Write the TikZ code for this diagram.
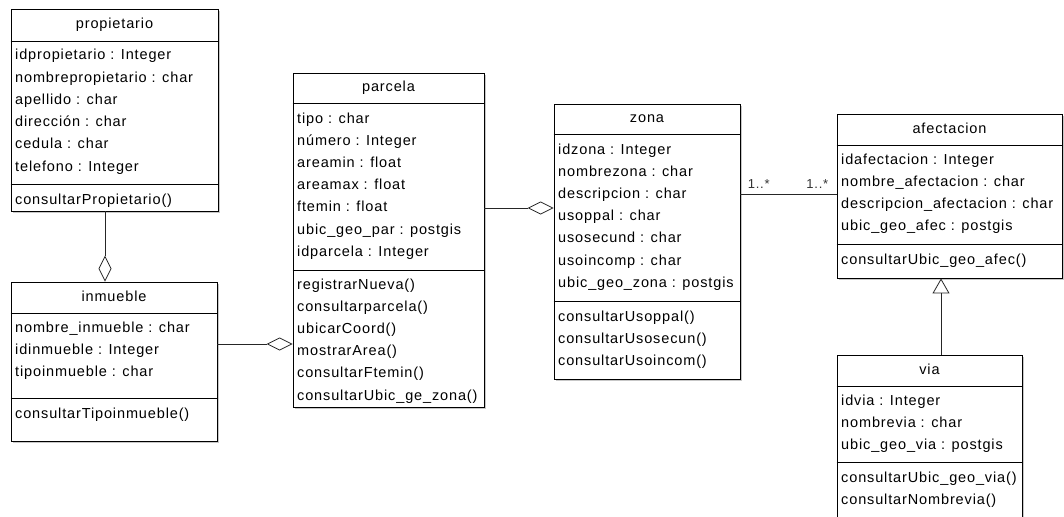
\documentclass[tikz,border=0pt]{standalone}
\usepackage{fontspec}
\setmainfont{Liberation Sans}[LetterSpace=6]
\usetikzlibrary{arrows.meta,calc,fit}

\tikzset{
  x=1pt, y=-1pt,
  classbox/.style={draw=black, line width=0.9pt, fill=white, inner sep=0pt, rectangle},
  shadowbox/.style={fill=black!22},
  divider/.style={line width=0.9pt},
  member/.style={anchor=base west, inner sep=0pt, font=\fontsize{14.5}{17}\selectfont},
  ctitle/.style={anchor=base, inner sep=0pt, font=\fontsize{14.5}{17}\selectfont},
  mult/.style={inner sep=1pt, text=black!80, font=\fontsize{13}{15}\selectfont},
  link/.style={line width=0.7pt, draw=black!85},
  aggr/.style={-{Diamond[open, length=26pt, width=13pt, line width=0.8pt]}},
  gen/.style={-{Triangle[open, length=15pt, width=17pt, line width=0.8pt]}},
}

% class frame: name, left, top, right, bottom, header line, divider line, title
\newcommand\umlbox[8]{%
  \fill[shadowbox] (#2+2,#3+2) rectangle (#4+2,#5+2);
  \node[classbox, fit={(#2,#3) (#4,#5)}] (#1) {};
  \draw[divider] (#1.west |- 0,#6) -- (#1.east |- 0,#6);
  \draw[divider] (#1.west |- 0,#7) -- (#1.east |- 0,#7);
  \node[ctitle] (#1-title) at ($(#1.north)!0.5!(#1.north |- 0,#6)+(0,4)$) {#8};
}
% member lines: left edge, centre of first line, entries
\newcommand\umlmembers[3]{%
  \foreach \m [count=\i from 0] in {#3}
    \node[member] at (#1+4, {#2+5+22.2*\i}) {\m};
}

\begin{document}
\begin{tikzpicture}
\useasboundingbox (0,0) rectangle (1064,516);
\clip (0,0) rectangle (1064,516);
\fill[white] (0,0) rectangle (1064,516);

% propietario
\umlbox{prop}{11}{9}{218}{211}{41}{184}{propietario}
\umlmembers{11}{55}{idpropietario : Integer, nombrepropietario : char, apellido : char, dirección : char, cedula : char, telefono : Integer}
\umlmembers{11}{199}{consultarPropietario()}

% inmueble
\umlbox{inm}{11}{282}{217}{441}{313}{398}{inmueble}
\umlmembers{11}{327}{nombre\_inmueble : char, idinmueble : Integer, tipoinmueble : char}
\umlmembers{11}{413}{consultarTipoinmueble()}

% parcela
\umlbox{parc}{293}{73}{484}{407}{103}{270}{parcela}
\umlmembers{293}{118}{tipo : char, número : Integer, areamin : float, areamax : float, ftemin : float, ubic\_geo\_par : postgis, idparcela : Integer}
\umlmembers{293}{284}{registrarNueva(), consultarparcela(), ubicarCoord(), mostrarArea(), consultarFtemin(), consultarUbic\_ge\_zona()}

% zona
\umlbox{zona}{554}{104}{740}{379}{134}{301}{zona}
\umlmembers{554}{149}{idzona : Integer, nombrezona : char, descripcion : char, usoppal : char, usosecund : char, usoincomp : char, ubic\_geo\_zona : postgis}
\umlmembers{554}{316}{consultarUsoppal(), consultarUsosecun(), consultarUsoincom()}

% afectacion
\umlbox{afec}{837}{114}{1062}{278}{145}{244}{afectacion}
\umlmembers{837}{159}{idafectacion : Integer, nombre\_afectacion : char, descripcion\_afectacion : char, ubic\_geo\_afec : postgis}
\umlmembers{837}{259}{consultarUbic\_geo\_afec()}

% via
\umlbox{via}{837}{355}{1022}{540}{386}{462}{via}
\umlmembers{837}{400}{idvia : Integer, nombrevia : char, ubic\_geo\_via : postgis}
\umlmembers{837}{477}{consultarUbic\_geo\_via(), consultarNombrevia()}

% connectors
\coordinate (kPI) at (105,0);
\coordinate (kIP) at (0,344);
\coordinate (kPZ) at (0,208);
\coordinate (kZA) at (0,194);
\coordinate (kVA) at (941,0);

\draw[link, aggr] (prop.south -| kPI) -- (inm.north -| kPI);
\draw[link, aggr] (inm.east |- kIP) -- (parc.west |- kIP);
\draw[link, aggr] (parc.east |- kPZ) -- (zona.west |- kPZ);
\draw[link] (zona.east |- kZA) --
  node[mult, pos=0, anchor=south west, xshift=6pt, yshift=4pt] {1..*}
  node[mult, pos=1, anchor=south east, xshift=-7pt, yshift=4pt] {1..*}
  (afec.west |- kZA);
\draw[link, gen] (via.north -| kVA) -- (afec.south -| kVA);
\end{tikzpicture}
\end{document}
